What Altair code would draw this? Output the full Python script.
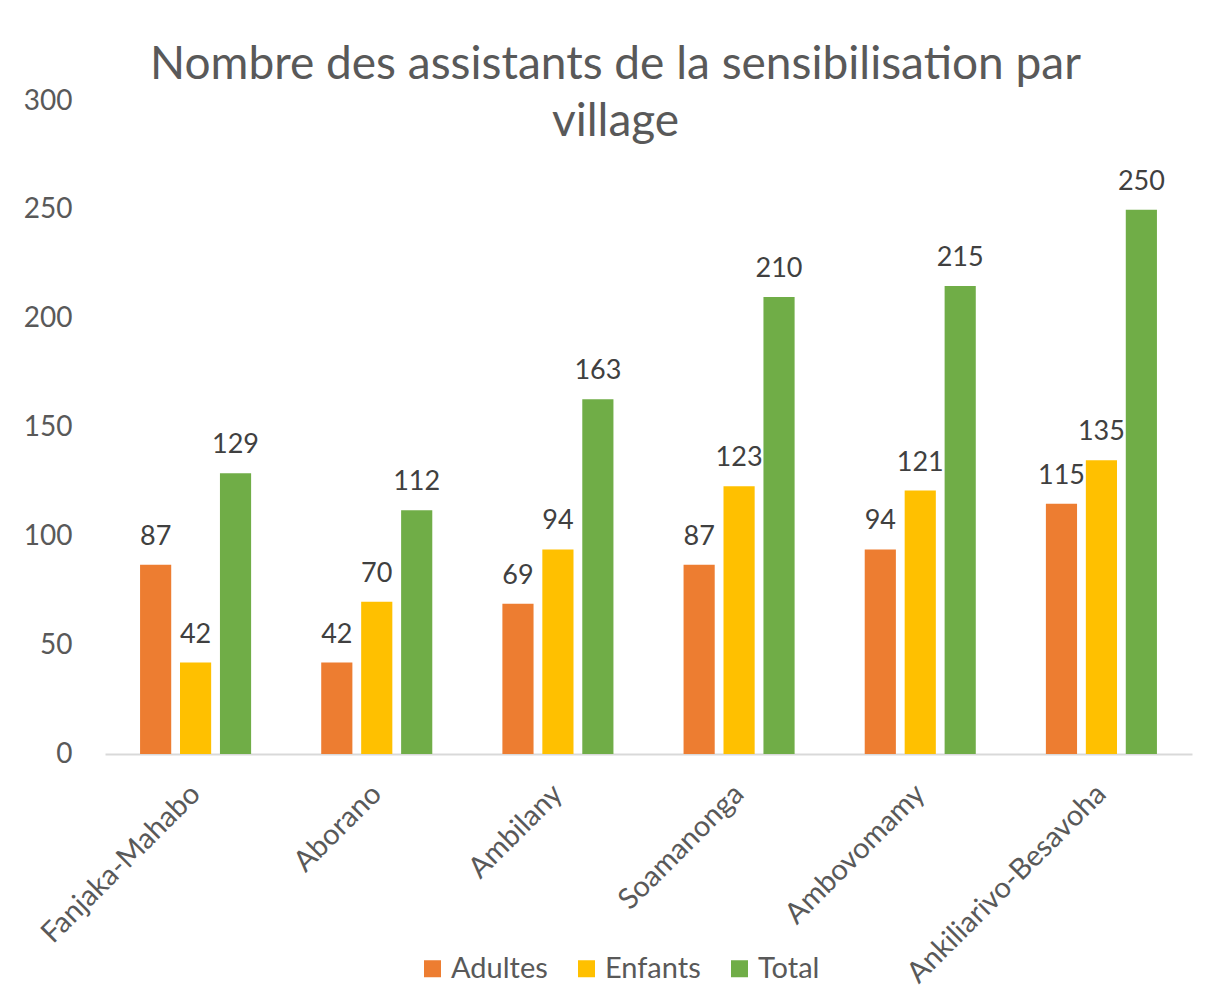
import altair as alt
import pandas as pd

villages = ["Fanjaka-Mahabo", "Aborano", "Ambilany", "Soamanonga", "Ambovomamy", "Ankiliarivo-Besavoha"]
series = ["Adultes", "Enfants", "Total"]
adultes = [87, 42, 69, 87, 94, 115]
enfants = [42, 70, 94, 123, 121, 135]
total = [129, 112, 163, 210, 215, 250]
colors = ["#ED7D31", "#FFC000", "#70AD47"]
y_ticks = [0, 50, 100, 150, 200, 250, 300]

rows = []
for name, vals in zip(series, [adultes, enfants, total]):
    for v, val in zip(villages, vals):
        rows.append({"village": v, "serie": name, "valeur": val})
df = pd.DataFrame(rows)

FONT = "Lato"

x = alt.X("village:N", sort=villages, title=None,
          scale=alt.Scale(paddingInner=0.387, paddingOuter=0.1935),
          axis=alt.Axis(labelAngle=-45, labelFontSize=29, labelColor="#595959",
                        labelFont=FONT, ticks=False, domainColor="#D9D9D9",
                        domainWidth=2, labelPadding=25, labelOffset=-10,
                        labelLimit=400, labelAlign="right", labelBaseline="top"))
y = alt.Y("valeur:Q", title=None,
          scale=alt.Scale(domain=[0, 300], nice=False),
          axis=alt.Axis(values=y_ticks, labelFontSize=28, labelColor="#595959",
                        labelFont=FONT, ticks=False, domain=False, grid=False,
                        labelPadding=33))
xoff = alt.XOffset("serie:N", sort=series,
                   scale=alt.Scale(paddingInner=0.22, paddingOuter=0))

bars = alt.Chart(df).mark_bar().encode(
    x=x, y=y, xOffset=xoff,
    color=alt.Color("serie:N", sort=series,
                    scale=alt.Scale(domain=series, range=colors),
                    legend=alt.Legend(title=None, orient="none", direction="horizontal",
                                      legendX=313, legendY=853,
                                      symbolType="square", symbolSize=289,
                                      symbolStrokeWidth=0,
                                      labelFontSize=29, labelColor="#595959",
                                      labelFont=FONT, labelOffset=4,
                                      columnPadding=24)),
)

labels = alt.Chart(df).mark_text(fontSize=27, font=FONT, color="#404040",
                                 baseline="alphabetic", dy=-20).encode(
    x=x, y=y, xOffset=xoff, text="valeur:Q")

chart = alt.layer(bars, labels).properties(
    width=1087, height=653,
    title=alt.TitleParams(
        text=["Nombre des assistants de la sensibilisation par", "village"],
        fontSize=46, font=FONT, fontWeight="normal", color="#595959",
        anchor="middle", dx=-33, offset=-59, lineHeight=57),
    autosize=alt.AutoSizeParams(type="none"),
    padding={"left": 105, "top": 101, "right": 17, "bottom": 249},
).configure(background="white").configure_view(strokeWidth=0)

chart.save("out.html", embed_options={"renderer": "svg", "actions": False})
